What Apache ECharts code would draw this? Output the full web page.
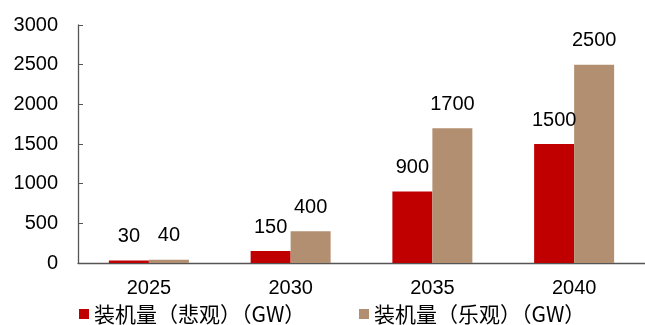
<!DOCTYPE html>
<html><head><meta charset="utf-8">
<script src="https://cdn.jsdelivr.net/npm/echarts@6/dist/echarts.min.js"></script>
<style>html,body{margin:0;padding:0;background:#fff}#c{width:645px;height:325px}</style>
</head><body><div id="c"></div>
<script>
const categories = ['2025','2030','2035','2040'];
const pessimistic = [30,150,900,1500];
const optimistic = [40,400,1700,2500];
const seriesNames = ['装机量（悲观）（GW）','装机量（乐观）（GW）'];
const yTicks = [0,500,1000,1500,2000,2500,3000];

const chart = echarts.init(document.getElementById('c'));
const font = '"Liberation Sans", Arial, sans-serif';
const labelCfg = {show:true, position:'top', distance:14, color:'#000', fontSize:20, fontFamily:font};
const legendBase = {
  top:303, padding:0, itemWidth:10, itemHeight:10, itemGap:8,
  textStyle:{fontSize:21, lineHeight:22, color:'#000', fontFamily:'"Noto Sans CJK SC", sans-serif'}
};
chart.setOption({
  animation:false,
  grid:{left:78, right:-5, top:25, bottom:62, containLabel:false},
  legend:[
    Object.assign({}, legendBase, {left:79, data:[{name:seriesNames[0], icon:'rect'}]}),
    Object.assign({}, legendBase, {left:359, data:[{name:seriesNames[1], icon:'rect'}]})
  ],
  xAxis:{
    type:'category', data:categories,
    axisLine:{lineStyle:{color:'#555', width:1.3}},
    axisTick:{inside:true, length:5, lineStyle:{color:'#555'}},
    axisLabel:{color:'#000', fontSize:20, margin:15, fontFamily:font}
  },
  yAxis:{
    type:'value', min:yTicks[0], max:yTicks[yTicks.length-1], interval:500,
    splitLine:{show:false},
    axisLine:{show:true, lineStyle:{color:'#555', width:1.3}},
    axisTick:{show:true, inside:true, length:5, lineStyle:{color:'#555'}},
    axisLabel:{color:'#000', fontSize:20, margin:20, fontFamily:font, formatter:v=>String(v)}
  },
  series:[
    {name:seriesNames[0], type:'bar', data:pessimistic, barWidth:40, barGap:'0%',
     itemStyle:{color:'#C00000'}, label:labelCfg},
    {name:seriesNames[1], type:'bar', data:optimistic, barWidth:40, barGap:'0%',
     itemStyle:{color:'#B28F70'}, label:labelCfg}
  ]
});
</script></body></html>
